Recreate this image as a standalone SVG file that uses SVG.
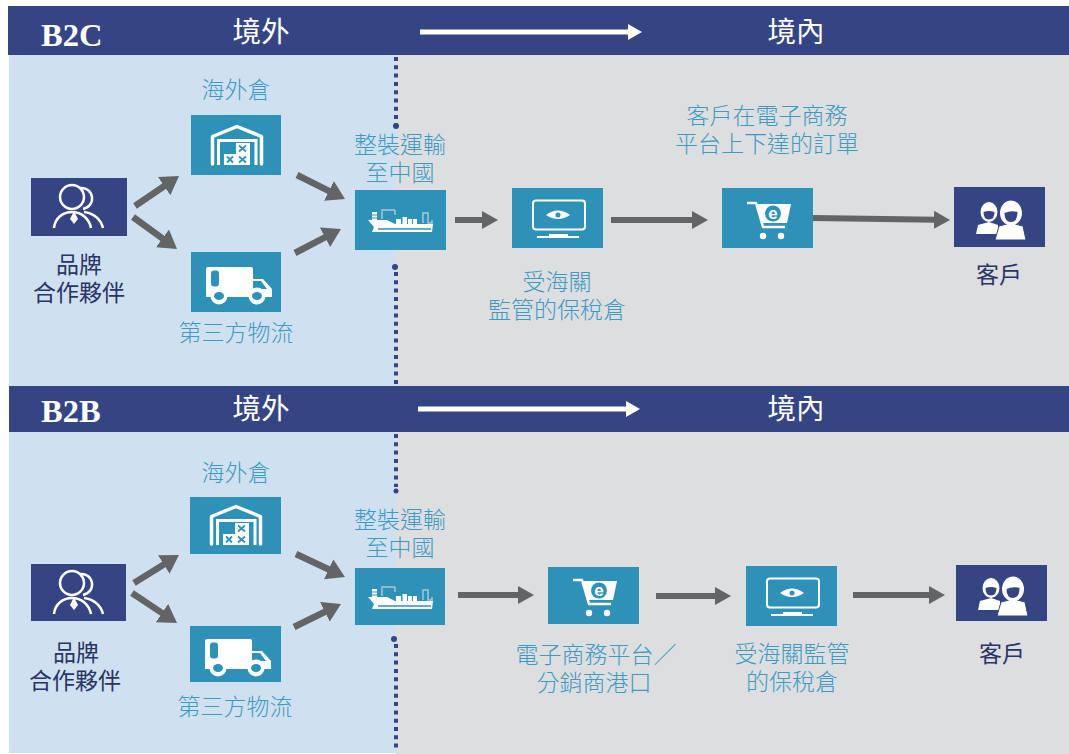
<svg xmlns="http://www.w3.org/2000/svg" width="1069" height="754" viewBox="0 0 1069 754">
<style>
.hdr{fill:#354583}
.teal{fill:#2e91b8}
.navy{fill:#354583}
.cn{font-family:"Noto Sans CJK TC","Noto Sans CJK SC",sans-serif;text-anchor:middle}
.lab{font-size:23px;font-weight:300;fill:#3f9ac2}
.dark{font-size:23px;font-weight:400;fill:#2b3467}
.hd{font-size:28.500px;font-weight:400;fill:#fff}
.tag{font-family:"Liberation Serif",serif;font-weight:700;font-size:32.500px;fill:#fff}
.arr{stroke:#636466;stroke-width:6;fill:none;marker-end:url(#ah)}
.dia{stroke:#636466;stroke-width:6.500;fill:none;marker-end:url(#ad)}
.warr{stroke:#fff;stroke-width:5;fill:none;marker-end:url(#wh)}
.dots{stroke:#354583;stroke-width:4;stroke-dasharray:4 4.300;fill:none}
.dot{fill:#354583}
</style>
<defs>
<marker id="ah" viewBox="0 0 16 18" markerUnits="userSpaceOnUse" markerWidth="16" markerHeight="18" refX="2" refY="9" orient="auto"><path d="M0 0L16 9L0 18Z" fill="#636466"/></marker>
<marker id="ad" viewBox="0 0 18 22" markerUnits="userSpaceOnUse" markerWidth="18" markerHeight="22" refX="2" refY="11" orient="auto"><path d="M0 0L18 11L0 22Z" fill="#636466"/></marker>
<marker id="wh" viewBox="0 0 14 16" markerUnits="userSpaceOnUse" markerWidth="14" markerHeight="16" refX="2" refY="8" orient="auto"><path d="M0 0L14 8L0 16Z" fill="#fff"/></marker>
<symbol id="i-wh" width="91" height="60" viewBox="0 0 91 60" overflow="visible">
<path d="M21.500 49V21.500L46 11.500L70.500 21.500V49" fill="none" stroke="#fff" stroke-width="3.500" stroke-linejoin="round" stroke-linecap="round"/>
<path d="M27.500 50V25.500H65V50" fill="none" stroke="#fff" stroke-width="3"/>
<path d="M33 39H45V28H59V50H33Z" fill="#fff"/>
<path d="M36 41.500L42 47.500M42 41.500L36 47.500M48 41.500L55 47.500M55 41.500L48 47.500M48 30.500L55 36.500M55 30.500L48 36.500" stroke="#2e91b8" stroke-width="1.800"/>
</symbol>
<symbol id="i-truck" width="91" height="60" viewBox="0 0 91 60" overflow="visible">
<path d="M17 15H60Q62 15 62 17V27H72L81 37V45H15V17Q15 15 17 15Z" fill="#fff"/>
<rect x="20" y="18.500" width="8" height="16" rx="3" fill="#2e91b8"/>
<path d="M62 29H70L76 37H62Z" fill="#2e91b8"/>
<circle cx="28" cy="44" r="8.500" fill="#fff"/><ellipse cx="28" cy="44" rx="5" ry="4" fill="#2e91b8"/>
<circle cx="66" cy="44" r="8.500" fill="#fff"/><ellipse cx="66" cy="44" rx="5" ry="4" fill="#2e91b8"/>
</symbol>
<symbol id="i-ship" width="91" height="60" viewBox="0 0 91 60" overflow="visible">
<path d="M27 29V20H40M40 20V25" fill="none" stroke="#a9c8d8" stroke-width="1.500"/>
<path d="M68 33V23H73V33H77V30" fill="none" stroke="#a9c8d8" stroke-width="1.500"/>
<path d="M17 22H22V24.500H17ZM17 25.500H22V27.500H17ZM17 28.500H22V30H17ZM41 29H46V34H41ZM47.500 27H52V34H47.500ZM53 29H57V34H53ZM58 29H62V34H58Z" fill="#fff"/>
<path d="M13 30H32L40 34H78L77 42H17L19 37Z" fill="#fff"/>
<path d="M23 39H76" stroke="#2e91b8" stroke-width="1.500"/>
</symbol>
<symbol id="i-mon" width="91" height="60" viewBox="0 0 91 60" overflow="visible">
<rect x="21" y="12.500" width="52" height="29" rx="3" fill="none" stroke="#fff" stroke-width="2"/>
<path d="M34 27Q46 18 58 27Q46 35 34 27Z" fill="#fff"/>
<circle cx="46" cy="27" r="2.500" fill="#2e91b8"/>
<path d="M37 46H56V48H37Z" fill="#fff"/><path d="M25 49H67" stroke="#fff" stroke-width="2"/>
</symbol>
<symbol id="i-cart" width="91" height="60" viewBox="0 0 91 60" overflow="visible">
<path d="M25 15H34L41 39H63" fill="none" stroke="#fff" stroke-width="2.500" stroke-linejoin="round"/>
<path d="M34 16H69L65 35H40Z" fill="#fff"/>
<circle cx="51" cy="25.500" r="8" fill="#2e91b8"/>
<text x="51" y="31" text-anchor="middle" font-family="Liberation Sans,sans-serif" font-weight="700" font-size="17" fill="#fff">e</text>
<circle cx="41" cy="48" r="3.200" fill="#fff"/><circle cx="59" cy="48" r="3.200" fill="#fff"/>
</symbol>
<symbol id="i-partner" width="96" height="58" viewBox="0 0 96 58" overflow="visible">
<g fill="none" stroke="#fff" stroke-width="2.500">
<circle cx="41" cy="19" r="12"/>
<path d="M49 10A10.500 10.500 0 1 1 52 31"/>
<path d="M23 50C24 40 32 34 41 34C50 34 58 40 60 50"/>
<path d="M53 34C62 35 70 41 72 50"/>
</g>
<path d="M43 33L47 41L43 46L39 41Z" fill="#fff"/>
</symbol>
<symbol id="i-cust" width="91" height="60" viewBox="0 0 91 60" overflow="visible">
<path d="M22 47L24 38L35 35L44 38L44 47Z" fill="#fff"/>
<ellipse cx="35" cy="25" rx="8.500" ry="10" fill="#fff"/>
<path d="M29.500 25Q35 23 40.500 25Q40.500 32.500 35 32.500Q29.500 32.500 29.500 25Z" fill="#354583"/>
<path d="M41 53L45 39L57 36L69 39L72 53Z" fill="#fff" stroke="#354583" stroke-width="1"/>
<ellipse cx="57" cy="26" rx="11" ry="12.500" fill="#fff"/>
<path d="M50.500 26Q57 23 63.500 25Q63.500 35 57 35Q50.500 35 50.500 26Z" fill="#354583"/>
</symbol>
</defs>

<rect width="1069" height="754" fill="#fff"/>

<g id="b2c-bg">
<rect x="9" y="55" width="387" height="331" fill="#cfe1f0"/>
<rect x="396" y="55" width="673" height="331" fill="#dcdee0"/>
</g>
<g id="b2b-bg">
<rect x="9" y="432" width="387" height="321" fill="#cfe1f0"/>
<rect x="396" y="432" width="673" height="322" fill="#dcdee0"/>
</g>

<g id="dividers">
<path class="dots" d="M396 57V124M396 272V386M396 434V487M396 644V752"/>
<circle class="dot" cx="396" cy="126" r="3"/>
<circle class="dot" cx="395" cy="267" r="3"/>
<circle class="dot" cx="396" cy="491" r="2.500"/>
<circle class="dot" cx="394" cy="639" r="3"/>
</g>

<g id="b2c-header">
<rect class="hdr" x="8" y="6" width="1061" height="49"/>
<text class="tag" x="41" y="46">B2C</text>
<text class="cn hd" x="261" y="42">境外</text>
<text class="cn hd" x="796" y="42">境內</text>
<path class="warr" d="M420 32H630"/>
</g>
<g id="b2b-header">
<rect class="hdr" x="9" y="386" width="1060" height="46"/>
<text class="tag" x="41" y="422">B2B</text>
<text class="cn hd" x="261" y="419">境外</text>
<text class="cn hd" x="796" y="419">境內</text>
<path class="warr" d="M418 409H628"/>
</g>

<g id="connectors">
<path class="dia" d="M135 206L165.800 185"/>
<path class="dia" d="M133 217L164.100 239.600"/>
<path class="dia" d="M297 175L330.700 191.800"/>
<path class="dia" d="M295 253L326.800 236.400"/>
<path class="arr" d="M455 220H484"/>
<path class="arr" d="M611 220H694"/>
<path class="arr" d="M813 218L936 219.800"/>
<path class="dia" d="M134 583L165.400 563.400"/>
<path class="dia" d="M132 593L163.700 614.100"/>
<path class="dia" d="M296 554L330.500 570.200"/>
<path class="dia" d="M294 627L326.600 611"/>
<path class="arr" d="M458 595H520"/>
<path class="arr" d="M656 596H717"/>
<path class="arr" d="M853 595H931"/>
</g>

<g id="c-partner">
<rect class="navy" x="31" y="178" width="96" height="58"/><use href="#i-partner" x="31" y="178"/>
<text class="cn dark" x="79" y="273">品牌</text><text class="cn dark" x="79" y="301">合作夥伴</text>
</g>
<g id="c-warehouse">
<rect class="teal" x="191" y="115" width="90" height="60"/><use href="#i-wh" x="191" y="115"/>
<text class="cn lab" x="236" y="98">海外倉</text>
</g>
<g id="c-truck">
<rect class="teal" x="191" y="252" width="90" height="60"/><use href="#i-truck" x="191" y="252"/>
<text class="cn lab" x="236" y="341">第三方物流</text>
</g>
<g id="c-ship">
<rect class="teal" x="355" y="190" width="91" height="60"/><use href="#i-ship" x="355" y="190"/>
<text class="cn lab" x="400" y="153">整裝運輸</text><text class="cn lab" x="400" y="181">至中國</text>
</g>
<g id="c-bonded">
<rect class="teal" x="512" y="188" width="91" height="60"/><use href="#i-mon" x="512" y="188"/>
<text class="cn lab" x="557" y="290">受海關</text><text class="cn lab" x="557" y="318">監管的保稅倉</text>
</g>
<g id="c-order">
<rect class="teal" x="722" y="188" width="91" height="60"/><use href="#i-cart" x="722" y="188"/>
<text class="cn lab" x="767" y="124">客戶在電子商務</text><text class="cn lab" x="767" y="152">平台上下達的訂單</text>
</g>
<g id="c-customer">
<rect class="navy" x="954" y="187" width="91" height="60"/><use href="#i-cust" x="954" y="187"/>
<text class="cn dark" x="999" y="283">客戶</text>
</g>

<g id="b-partner">
<rect class="navy" x="31" y="564" width="95" height="57"/><use href="#i-partner" x="31" y="564"/>
<text class="cn dark" x="76" y="661">品牌</text><text class="cn dark" x="75" y="689">合作夥伴</text>
</g>
<g id="b-warehouse">
<rect class="teal" x="190" y="497" width="91" height="57"/><use href="#i-wh" x="190" y="495"/>
<text class="cn lab" x="236" y="481">海外倉</text>
</g>
<g id="b-truck">
<rect class="teal" x="190" y="626" width="91" height="56"/><use href="#i-truck" x="190" y="624"/>
<text class="cn lab" x="235" y="715">第三方物流</text>
</g>
<g id="b-ship">
<rect class="teal" x="355" y="568" width="90" height="57"/><use href="#i-ship" x="355" y="567"/>
<text class="cn lab" x="400" y="528">整裝運輸</text><text class="cn lab" x="400" y="556">至中國</text>
</g>
<g id="b-platform">
<rect class="teal" x="548" y="567" width="91" height="57"/><use href="#i-cart" x="548" y="565"/>
<text class="cn lab" x="596" y="663">電子商務平台／</text><text class="cn lab" x="594" y="691">分銷商港口</text>
</g>
<g id="b-bonded">
<rect class="teal" x="746" y="566" width="91" height="60"/><use href="#i-mon" x="746" y="566"/>
<text class="cn lab" x="792" y="662">受海關監管</text><text class="cn lab" x="792" y="690">的保稅倉</text>
</g>
<g id="b-customer">
<rect class="navy" x="956" y="565" width="91" height="56"/><use href="#i-cust" x="956" y="563"/>
<text class="cn dark" x="1002" y="662">客戶</text>
</g>
</svg>
